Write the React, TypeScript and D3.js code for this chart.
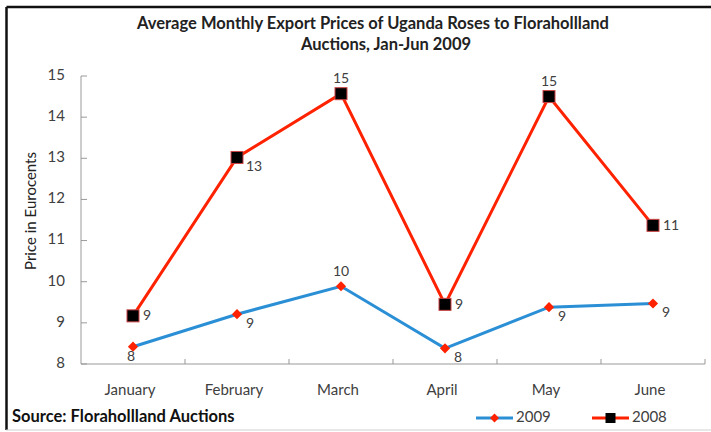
import * as d3 from "d3";

const W = 711;
const H = 432;
const MARGIN = {top: 76, right: 6, bottom: 68, left: 81};

const months = ["January", "February", "March", "April", "May", "June"];
const prices2009 = [8.42, 9.21, 9.89, 8.38, 9.38, 9.47];
const prices2008 = [9.17, 13.02, 14.57, 9.45, 14.5, 11.37];
// where each value label sits relative to its marker
const place2009 = ["below", "belowRight", "above", "belowRight", "belowRight", "belowRight"];
const place2008 = ["right", "belowRight", "above", "right", "above", "right"];
const yTicks = [8, 9, 10, 11, 12, 13, 14, 15];

const RED = "#ff2200";
const BLUE = "#2b8fd6";
const GREY_TEXT = "#404040";
const FONT = "Lato, 'Open Sans', sans-serif";

const labelOffset = (p: string): [number, number, string] => {
    if (p === "above") return [0, -14, "middle"];
    if (p === "right") return [10, 1, "start"];
    if (p === "below") return [-2, 11, "middle"];
    return [9, 10, "start"]; // belowRight
};

export default function App() {
    const boundsWidth = W - MARGIN.left - MARGIN.right;
    const boundsHeight = H - MARGIN.top - MARGIN.bottom;

    const xScale = d3.scaleBand().domain(months).range([0, boundsWidth]);
    const yScale = d3.scaleLinear().domain([8, 15]).range([boundsHeight, 0]);
    const cx = (m: string) => (xScale(m) ?? 0) + xScale.bandwidth() / 2;

    const line = d3
        .line<number>()
        .x((_, i) => cx(months[i]))
        .y((d) => yScale(d));

    const valueLabels = (values: number[], places: string[]) =>
        values.map((v, i) => {
            const [dx, dy, anchor] = labelOffset(places[i]);
            return (
                <text
                    key={i}
                    x={cx(months[i]) + dx}
                    y={yScale(v) + dy}
                    textAnchor={anchor}
                    dominantBaseline="middle"
                    fontSize={14}
                    fill={GREY_TEXT}
                >
                    {Math.round(v)}
                </text>
            );
        });

    // square turned 45 degrees, as in the spreadsheet marker
    const diamond = d3.symbol(d3.symbolSquare, 52)() ?? "";
    const legendDiamond = d3.symbol(d3.symbolSquare, 40)() ?? "";

    return (
        <svg
            width={W}
            height={H}
            style={{position: "absolute", left: 0, top: 0, background: "white"}}
            fontFamily={FONT}
        >
            {/* frame */}
            <line x1={6.5} y1={7} x2={W} y2={7} stroke="#111" strokeWidth={2.5} />
            <line x1={6.5} y1={7} x2={6.5} y2={430} stroke="#111" strokeWidth={2.5} />
            <line x1={6} y1={430} x2={W} y2={430} stroke="#d0d0d0" strokeWidth={1} />

            {/* title */}
            <text x={373} y={25} textAnchor="middle" dominantBaseline="middle" fontSize={16.5} fontWeight={700} fill="#222">
                Average Monthly Export Prices of Uganda Roses to Florahollland
            </text>
            <text x={386} y={46} textAnchor="middle" dominantBaseline="middle" fontSize={16.5} fontWeight={700} fill="#222">
                Auctions, Jan-Jun 2009
            </text>

            {/* y axis title */}
            <text
                transform="translate(32,211) rotate(-90)"
                textAnchor="middle"
                dominantBaseline="middle"
                fontSize={15}
                fill="#222"
            >
                Price in Eurocents
            </text>

            <g transform={`translate(${MARGIN.left},${MARGIN.top})`}>
                {/* axes */}
                <line x1={0} y1={0} x2={0} y2={boundsHeight} stroke="#999" />
                <line x1={0} y1={boundsHeight} x2={boundsWidth} y2={boundsHeight} stroke="#999" />
                {yTicks.map((t) => (
                    <g key={t}>
                        <line x1={0} x2={6} y1={yScale(t)} y2={yScale(t)} stroke="#999" />
                        <text
                            x={-16}
                            y={yScale(t)}
                            textAnchor="end"
                            dominantBaseline="middle"
                            fontSize={15}
                            fill={GREY_TEXT}
                        >
                            {t}
                        </text>
                    </g>
                ))}
                {months.map((m) => (
                    <g key={m}>
                        <line
                            x1={(xScale(m) ?? 0) + xScale.bandwidth()}
                            x2={(xScale(m) ?? 0) + xScale.bandwidth()}
                            y1={boundsHeight}
                            y2={boundsHeight - 5}
                            stroke="#999"
                        />
                        <text
                            x={cx(m) - 3}
                            y={boundsHeight + 27}
                            textAnchor="middle"
                            dominantBaseline="middle"
                            fontSize={15}
                            fill={GREY_TEXT}
                        >
                            {m}
                        </text>
                    </g>
                ))}

                {/* series */}
                <path d={line(prices2008) ?? ""} fill="none" stroke={RED} strokeWidth={3} />
                <path d={line(prices2009) ?? ""} fill="none" stroke={BLUE} strokeWidth={3} />
                {prices2008.map((v, i) => (
                    <rect
                        key={i}
                        x={cx(months[i]) - 6}
                        y={yScale(v) - 6}
                        width={12}
                        height={12}
                        fill="#000"
                        stroke="#c44"
                        strokeWidth={1}
                    />
                ))}
                {prices2009.map((v, i) => (
                    <path
                        key={i}
                        d={diamond}
                        transform={`translate(${cx(months[i])},${yScale(v)}) rotate(45)`}
                        fill={RED}
                    />
                ))}
                {valueLabels(prices2008, place2008)}
                {valueLabels(prices2009, place2009)}
            </g>

            {/* source */}
            <text x={12} y={418} dominantBaseline="middle" fontSize={16.5} fontWeight={700} fill="#111">
                Source: Florahollland Auctions
            </text>

            {/* legend */}
            <g transform="translate(476,418)">
                <line x1={0} x2={37} y1={0} y2={0} stroke={BLUE} strokeWidth={3} />
                <path d={legendDiamond} transform="translate(18.5,0) rotate(45)" fill={RED} />
                <text x={40} y={0} dominantBaseline="middle" fontSize={15} fill={GREY_TEXT}>
                    2009
                </text>
            </g>
            <g transform="translate(592,418)">
                <line x1={0} x2={37} y1={0} y2={0} stroke={RED} strokeWidth={3} />
                <rect x={13.5} y={-5} width={10} height={10} fill="#000" />
                <text x={40} y={0} dominantBaseline="middle" fontSize={15} fill={GREY_TEXT}>
                    2008
                </text>
            </g>
        </svg>
    );
}
